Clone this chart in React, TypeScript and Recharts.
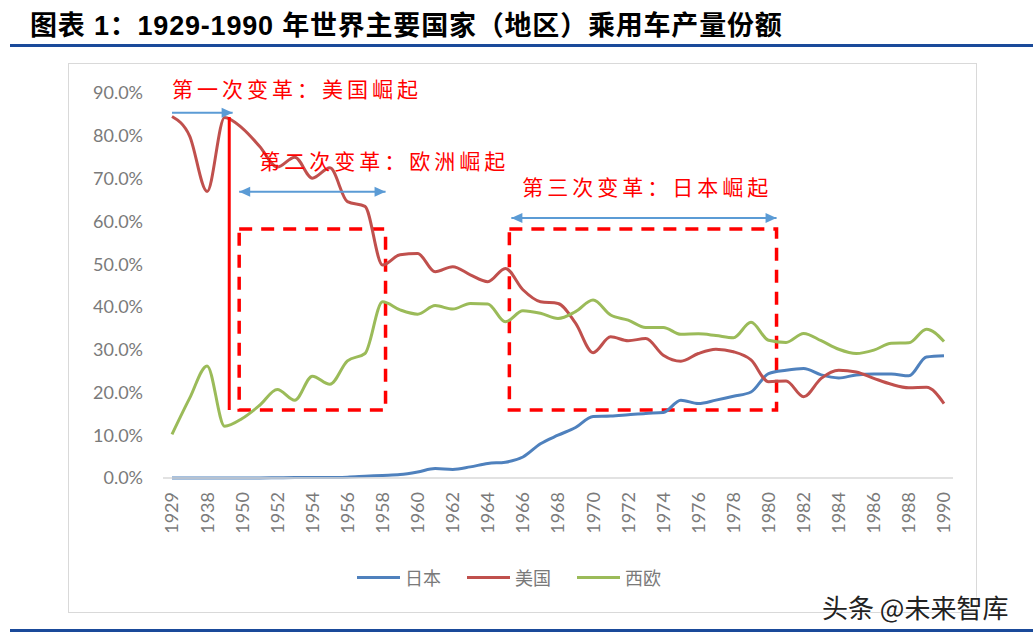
import React from 'react';
import { LineChart, Line, XAxis, YAxis, Legend, ReferenceLine, ReferenceArea } from 'recharts';

// years on the category axis (two early hidden-label years)
const years = ['1929', '1937', '1938', '1946', '1950', '1951', '1952', '1953', '1954', '1955', '1956', '1957', '1958', '1959', '1960', '1961', '1962', '1963', '1964', '1965', '1966', '1967', '1968', '1969', '1970', '1971', '1972', '1973', '1974', '1975', '1976', '1977', '1978', '1979', '1980', '1981', '1982', '1983', '1984', '1985', '1986', '1987', '1988', '1989', '1990'];

// shares in %
const japan = [0, 0, 0, 0, 0, 0, 0.05, 0.1, 0.1, 0.1, 0.2, 0.4, 0.6, 0.8, 1.4, 2.2, 2.0, 2.6, 3.4, 3.7, 4.9, 8.0, 10.0, 11.8, 14.4, 14.5, 14.8, 15.1, 15.3, 18.2, 17.4, 18.2, 19.1, 20.1, 24.4, 25.2, 25.6, 24.1, 23.4, 24.1, 24.3, 24.3, 23.9, 28.3, 28.6];
const usa = [84.5, 80.0, 67.0, 84.3, 81.8, 77.5, 72.7, 75.0, 70.1, 72.5, 64.6, 63.5, 49.8, 52.2, 52.5, 48.2, 49.4, 47.5, 45.9, 49.0, 44.0, 41.2, 40.8, 36.2, 29.3, 33.0, 32.1, 32.6, 28.7, 27.3, 29.1, 30.1, 29.5, 27.6, 22.5, 22.7, 19.0, 23.3, 25.2, 24.8, 23.3, 21.9, 21.1, 21.2, 17.4];
const westEurope = [10.2, 18.6, 26.2, 12.1, 13.9, 17.0, 20.7, 18.2, 23.8, 21.9, 27.4, 29.1, 41.2, 39.3, 38.3, 40.3, 39.5, 40.8, 40.7, 36.5, 39.1, 38.5, 37.3, 38.9, 41.6, 38.1, 36.9, 35.2, 35.2, 33.6, 33.7, 33.3, 32.8, 36.4, 32.2, 31.7, 33.8, 32.1, 30.1, 29.1, 29.9, 31.5, 31.6, 34.8, 31.9];

const yTicks = [0, 10, 20, 30, 40, 50, 60, 70, 80, 90];

const seriesList = [
  { key: 'japan', name: '日本', color: '#4F81BD' },
  { key: 'usa', name: '美国', color: '#C0504D' },
  { key: 'westEurope', name: '西欧', color: '#9BBB59' },
];

const data = years.map((year, i) => ({
  year,
  japan: japan[i],
  usa: usa[i],
  westEurope: westEurope[i],
}));

const GRAY = '#7a7a7a';
const RED = '#FF0000';
const ARROW = '#5B9BD5';
const labelFont = '"Noto Sans CJK SC", sans-serif';

const head = (x: number, y: number, dir: number) => (
  <polygon points={`${x},${y} ${x - dir * 11},${y - 5} ${x - dir * 11},${y + 5}`} fill={ARROW} />
);

const arrowShape = (opts: { dx1: number; dx2: number; both: boolean; text: string; tx: number; ty: number }) => (p: any) => {
  const x1 = p.x1 + opts.dx1;
  const x2 = p.x2 + opts.dx2;
  return (
    <g>
      <line x1={x1} y1={p.y1} x2={x2} y2={p.y2} stroke={ARROW} strokeWidth={2} />
      {head(x2, p.y2, 1)}
      {opts.both && head(x1, p.y1, -1)}
      <text x={p.x1 + opts.tx} y={p.y1 + opts.ty} fill={RED} fontSize={21} letterSpacing={4} fontFamily={labelFont} dominantBaseline="central">
        {opts.text}
      </text>
    </g>
  );
};

const dashedBox = (dxL: number, dxR: number) => (p: any) => (
  <rect x={p.x + dxL} y={p.y} width={p.width - dxL + dxR} height={p.height} fill="none" stroke={RED} strokeWidth={3.5} strokeDasharray="13 9" />
);

const XTick = (props: any) => {
  const { x, y, payload, index } = props;
  if (index % 2 !== 0) return null;
  return (
    <text transform={`translate(${x},${y}) rotate(-90)`} textAnchor="end" dy="0.36em" fill={GRAY} fontSize={18}>
      {payload.value}
    </text>
  );
};

const renderLegend = () => (
  <div style={{ display: 'flex', alignItems: 'center', fontFamily: labelFont, fontSize: 18, color: GRAY, height: 24, whiteSpace: 'nowrap' }}>
    {seriesList.map((s) => (
      <span key={s.key} style={{ display: 'flex', alignItems: 'center', marginRight: 26, flexShrink: 0 }}>
        <span style={{ display: 'inline-block', width: 43, height: 3, background: s.color, marginRight: 5 }} />
        {s.name}
      </span>
    ))}
  </div>
);

export default function App() {
  return (
    <div style={{ position: 'relative', width: 1033, height: 637, background: '#fff', overflow: 'hidden' }}>
      <style>{'body{margin:0}'}</style>
      <div style={{ position: 'absolute', left: 30, top: 4, fontFamily: '"Liberation Sans", "Noto Sans CJK SC", sans-serif', fontWeight: 700, fontSize: 27, letterSpacing: 0.8, color: '#000', whiteSpace: 'nowrap' }}>
        图表 1：1929-1990 年世界主要国家（地区）乘用车产量份额
      </div>
      <div style={{ position: 'absolute', left: 10, top: 44, width: 1023, height: 3, background: '#1A4A9A' }} />
      <div style={{ position: 'absolute', left: 68, top: 63, width: 907, height: 548, border: '1px solid #d9d9d9' }} />
      <div style={{ position: 'absolute', left: 0, top: 0 }}>
        <LineChart
          width={1033}
          height={637}
          data={data}
          margin={{ top: 93, right: 80, left: 83, bottom: 48 }}
          style={{ fontFamily: 'Lato, sans-serif' }}
        >
          <XAxis
            dataKey="year"
            interval={0}
            height={87}
            tick={<XTick />}
            tickLine={false}
            tickSize={0}
            tickMargin={14}
            axisLine={{ stroke: '#d9d9d9', strokeWidth: 1.5 }}
            padding={{ left: 9, right: 9 }}
          />
          <YAxis
            width={80}
            domain={[0, 90]}
            ticks={yTicks}
            tickFormatter={(v: number) => `${v.toFixed(1)}%`}
            axisLine={false}
            tickLine={false}
            tickSize={0}
            tickMargin={20}
            tick={{ fill: GRAY, fontSize: 18 }}
          />
          <Legend verticalAlign="bottom" content={renderLegend} wrapperStyle={{ left: 357, width: 360, height: 24 }} />
          {seriesList.map((s) => (
            <Line
              key={s.key}
              type="monotone"
              dataKey={s.key}
              name={s.name}
              stroke={s.color}
              strokeWidth={3}
              dot={false}
              isAnimationActive={false}
            />
          ))}
          <ReferenceArea x1="1950" x2="1958" y1={15.9} y2={58.2} shape={dashedBox(-3, 3)} />
          <ReferenceArea x1="1965" x2="1980" y1={15.9} y2={58.2} shape={dashedBox(4, 8)} />
          <ReferenceLine
            segment={[{ x: '1946', y: 84.4 }, { x: '1946', y: 15.9 }]}
            shape={(p: any) => <line x1={p.x1 + 4.6} y1={p.y1} x2={p.x2 + 4.6} y2={p.y2} stroke={RED} strokeWidth={3} />}
          />
          <ReferenceLine
            segment={[{ x: '1929', y: 85.4 }, { x: '1946', y: 85.4 }]}
            shape={arrowShape({ dx1: 0, dx2: 8, both: false, text: '第一次变革：美国崛起', tx: 0, ty: -25 })}
          />
          <ReferenceLine
            segment={[{ x: '1950', y: 66.9 }, { x: '1958', y: 66.9 }]}
            shape={arrowShape({ dx1: -3, dx2: 3, both: true, text: '第二次变革：欧洲崛起', tx: 17, ty: -32 })}
          />
          <ReferenceLine
            segment={[{ x: '1965', y: 60.8 }, { x: '1980', y: 60.8 }]}
            shape={arrowShape({ dx1: 6, dx2: 8, both: true, text: '第三次变革：日本崛起', tx: 17, ty: -32 })}
          />
        </LineChart>
      </div>
      <div style={{ position: 'absolute', left: 822, top: 588, fontFamily: labelFont, fontSize: 26, color: '#222', whiteSpace: 'nowrap', textShadow: '0 0 2px #fff, 0 0 2px #fff' }}>
        头条 @未来智库
      </div>
      <div style={{ position: 'absolute', left: 10, top: 629, width: 1023, height: 3, background: '#1A4A9A' }} />
    </div>
  );
}
